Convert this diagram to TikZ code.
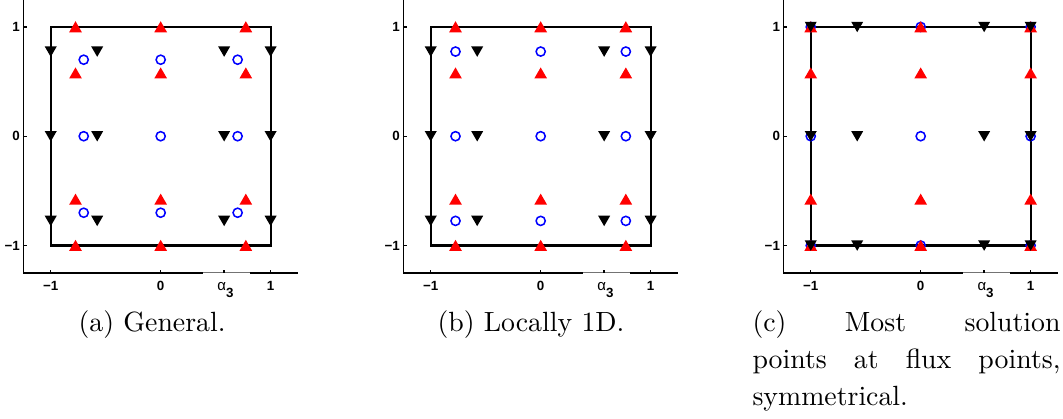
\documentclass[tikz,border=0pt]{standalone}
\usepackage{fontspec}
\newfontfamily\axfont{Liberation Sans}
\usetikzlibrary{shapes.geometric}

\begin{document}
\begin{tikzpicture}[
    fluxup/.style  = {regular polygon, regular polygon sides=3, fill=red,
                      inner sep=0pt, minimum size=5.3pt, yshift=-0.6pt},
    fluxdn/.style  = {regular polygon, regular polygon sides=3,
                      shape border rotate=180, fill=black,
                      inner sep=0pt, minimum size=5pt, yshift=0.6pt},
    solpt/.style   = {circle, draw=blue, line width=0.55pt, inner sep=0pt,
                      minimum size=3.3pt},
    cell/.style    = {line width=0.8pt},
    axline/.style  = {line width=0.5pt},
    ticklbl/.style = {font={\axfont\bfseries\fontsize{4.8}{5.5}\selectfont},
                      inner sep=1pt},
    capt/.style    = {font=\fontsize{10}{13.3}\selectfont, inner sep=0pt},
]
\useasboundingbox (0,0) rectangle (382.4pt,-150.7pt);

%% ── Axes of the three panels ─────────────────────────────────────────────
\foreach \p/\sx in {a/57.8pt, b/194.5pt, c/331.2pt} {
  \begin{scope}[shift={(\sx,-49pt)}, x=39.55pt, y=39.32pt]
    \draw[axline] (-1.25,1.25) -- (-1.25,-1.25) -- (0.385,-1.25);
    \draw[line width=0.3pt, black!55] (0.385,-1.25) -- (0.81,-1.25);
    \draw[axline] (0.81,-1.25) -- (1.25,-1.25);
    \foreach \t in {-1,0,0.5774,1}
      \draw[axline] (\t,-1.25) -- ++(0,0.03);
    \foreach \t in {-1,0,1}
      \draw[axline] (-1.25,\t) -- ++(0.03,0);
    \node[ticklbl, anchor=east] (\p-y1)  at (-1.25, 1) {1};
    \node[ticklbl, anchor=east] (\p-y0)  at (-1.25, 0) {0};
    \node[ticklbl, anchor=east] (\p-ym)  at (-1.25,-1) {−1};
    \node[ticklbl, anchor=base] (\p-xm)  at (-1,-1.41) {−1};
    \node[ticklbl, anchor=base] (\p-x0)  at ( 0,-1.41) {0};
    \node[ticklbl, anchor=base] (\p-x1)  at ( 1,-1.41) {1};
    \node[ticklbl, anchor=base] (\p-a3)  at (0.59,-1.41)
      {{\mdseries\fontsize{5.4}{6}\selectfont α}\raisebox{-2.6pt}{3}};
  \end{scope}
}

%% ── (a) General ───────────────────────────────────────────────────────────
\begin{scope}[shift={(57.8pt,-49pt)}, x=39.55pt, y=39.32pt]
  \draw[cell] (-1,-1) rectangle (1,1);
  \foreach \u [count=\i] in {-0.7,0,0.7}
    \foreach \v [count=\j] in {-0.7,0,0.7}
      \node[solpt] (a-s\i\j) at (\u,\v) {};
  \foreach \u [count=\i] in {-0.7746,0,0.7746}
    \foreach \v [count=\j] in {-1,-0.5774,0.5774,1}
      \node[fluxup] (a-r\i\j) at (\u,\v) {};
  \foreach \u [count=\i] in {-1,-0.5774,0.5774,1}
    \foreach \v [count=\j] in {-0.7746,0,0.7746}
      \node[fluxdn] (a-k\i\j) at (\u,\v) {};
\end{scope}

%% ── (b) Locally 1D ────────────────────────────────────────────────────────
\begin{scope}[shift={(194.5pt,-49pt)}, x=39.55pt, y=39.32pt]
  \draw[cell] (-1,-1) rectangle (1,1);
  \foreach \u [count=\i] in {-0.7746,0,0.7746}
    \foreach \v [count=\j] in {-0.7746,0,0.7746}
      \node[solpt] (b-s\i\j) at (\u,\v) {};
  \foreach \u [count=\i] in {-0.7746,0,0.7746}
    \foreach \v [count=\j] in {-1,-0.5774,0.5774,1}
      \node[fluxup] (b-r\i\j) at (\u,\v) {};
  \foreach \u [count=\i] in {-1,-0.5774,0.5774,1}
    \foreach \v [count=\j] in {-0.7746,0,0.7746}
      \node[fluxdn] (b-k\i\j) at (\u,\v) {};
\end{scope}

%% ── (c) Symmetrical ───────────────────────────────────────────────────────
\begin{scope}[shift={(331.2pt,-49pt)}, x=39.55pt, y=39.32pt]
  \draw[cell] (-1,-1) rectangle (1,1);
  \foreach \u [count=\i] in {-1,0,1}
    \foreach \v [count=\j] in {-1,0,1}
      \node[solpt] (c-s\i\j) at (\u,\v) {};
  \foreach \u [count=\i] in {-1,0,1}
    \foreach \v [count=\j] in {-1,-0.5774,0.5774,1}
      \node[fluxup] (c-r\i\j) at (\u,\v) {};
  \foreach \u [count=\i] in {-1,-0.5774,0.5774,1}
    \foreach \v [count=\j] in {-1,0,1}
      \node[fluxdn] (c-k\i\j) at (\u,\v) {};
\end{scope}

%% ── Captions ──────────────────────────────────────────────────────────────
\node[capt, anchor=base] (capa) at (54.7pt,-119.1pt) {(a) General.};
\node[capt, anchor=base] (capb) at (191pt,-119.1pt) {(b) Locally 1D.};
\node[capt, anchor=base west] (capc) at (270.5pt,-119.1pt)
  {\parbox[t]{110.8pt}{(c) Most solution\linebreak
   points at flux points,\linebreak symmetrical.}};

\end{tikzpicture}
\end{document}
